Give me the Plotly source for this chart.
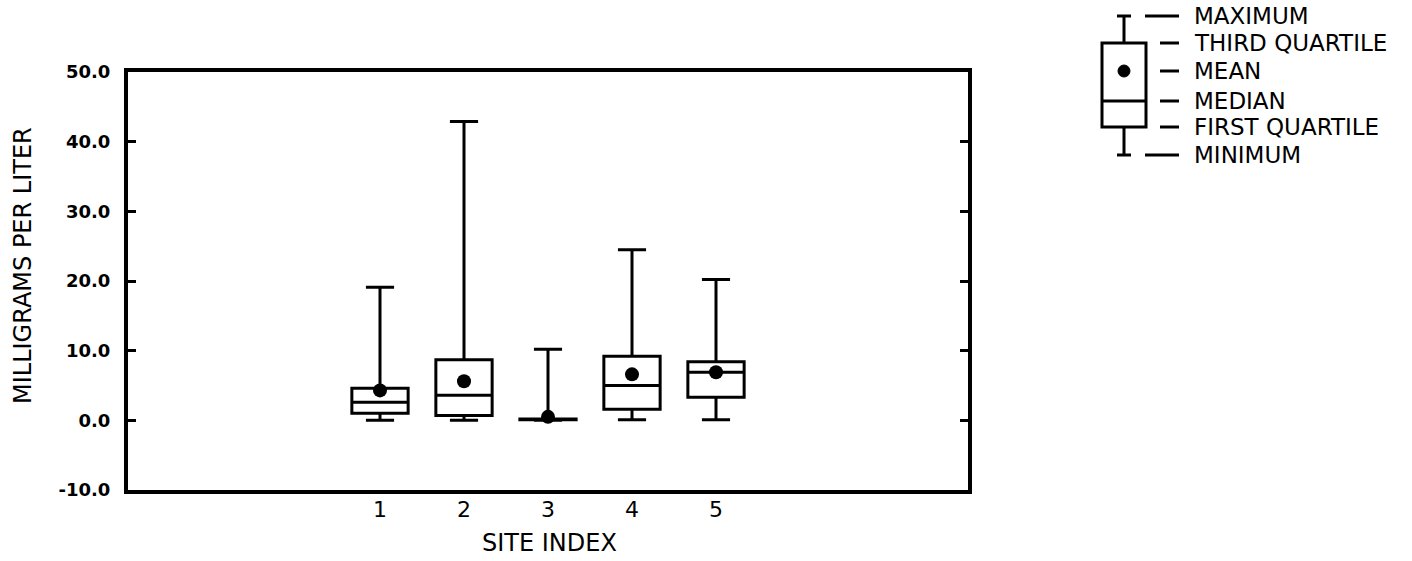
import plotly.graph_objects as go

# ---- data ----
sites = [1, 2, 3, 4, 5]
minimum = [0.0, 0.0, 0.0, 0.1, 0.1]
first_quartile = [1.0, 0.7, 0.1, 1.6, 3.3]
median = [2.6, 3.6, 0.1, 5.0, 6.9]
third_quartile = [4.6, 8.7, 0.2, 9.2, 8.4]
maximum = [19.1, 42.9, 10.2, 24.5, 20.2]
mean = [4.3, 5.6, 0.5, 6.6, 6.9]

y_ticks = [-10, 0, 10, 20, 30, 40, 50]
x_tick_labels = ["1", "2", "3", "4", "5"]
legend_labels = ["MAXIMUM", "THIRD QUARTILE", "MEAN", "MEDIAN", "FIRST QUARTILE", "MINIMUM"]

W, H = 1412, 561
FONT = "DejaVu Sans"

def px(x):
    return x / W

def py(y):
    return (H - y) / H

fig = go.Figure()

fig.add_trace(go.Box(
    x=sites, q1=first_quartile, median=median, q3=third_quartile,
    lowerfence=minimum, upperfence=maximum,
    width=0.67, whiskerwidth=0.5,
    line=dict(color="black", width=3), fillcolor="white",
    boxpoints=False, showlegend=False, hoverinfo="skip",
))
fig.add_trace(go.Scatter(
    x=sites, y=mean, mode="markers",
    marker=dict(color="black", size=14), showlegend=False, hoverinfo="skip",
))

fig.update_layout(
    width=W, height=H, autosize=False,
    margin=dict(l=0, r=0, t=0, b=0, autoexpand=False),
    paper_bgcolor="white", plot_bgcolor="white",
    font=dict(family=FONT, color="black"),
    xaxis=dict(
        domain=[px(128), px(968)], range=[-2, 8], automargin=False,
        tickmode="array", tickvals=sites, ticktext=x_tick_labels,
        ticks="", showgrid=False, zeroline=False,
        showline=True, linewidth=4, linecolor="black", mirror=True,
        tickfont=dict(size=22, family=FONT), ticklabelstandoff=-3,
    ),
    yaxis=dict(
        domain=[py(490), py(72)], range=[-10, 50], automargin=False,
        tickmode="array", tickvals=y_ticks, ticktext=[f"{v:.1f}" for v in y_ticks],
        ticks="inside", ticklen=8, tickwidth=3, tickcolor="black",
        showgrid=False, zeroline=False,
        showline=True, linewidth=4, linecolor="black", mirror="ticks",
        tickfont=dict(size=18, family=FONT, weight="bold"), ticklabelstandoff=10,
    ),
)

annotations = [
    dict(text="MILLIGRAMS PER LITER", x=px(23), y=py(266), xref="paper", yref="paper",
         textangle=-90, showarrow=False, font=dict(size=24, family=FONT),
         xanchor="center", yanchor="middle"),
    dict(text="SITE INDEX", x=px(549), y=py(543), xref="paper", yref="paper",
         showarrow=False, font=dict(size=24, family=FONT),
         xanchor="center", yanchor="middle"),
]

# ---- schematic key (top right) ----
shapes = []
lw = 3
cx = 1124
y_max, y_q3, y_mean, y_med, y_q1, y_min = 16, 43, 71, 101, 127, 155
shapes += [
    dict(type="rect", x0=px(1102), x1=px(1146), y0=py(y_q3), y1=py(y_q1),
         line=dict(color="black", width=lw), xref="paper", yref="paper"),
    dict(type="line", x0=px(1102), x1=px(1146), y0=py(y_med), y1=py(y_med),
         line=dict(color="black", width=lw), xref="paper", yref="paper"),
    dict(type="line", x0=px(cx), x1=px(cx), y0=py(y_max), y1=py(y_q3),
         line=dict(color="black", width=lw), xref="paper", yref="paper"),
    dict(type="line", x0=px(cx), x1=px(cx), y0=py(y_q1), y1=py(y_min),
         line=dict(color="black", width=lw), xref="paper", yref="paper"),
    dict(type="line", x0=px(1117), x1=px(1131), y0=py(y_max), y1=py(y_max),
         line=dict(color="black", width=lw), xref="paper", yref="paper"),
    dict(type="line", x0=px(1117), x1=px(1131), y0=py(y_min), y1=py(y_min),
         line=dict(color="black", width=lw), xref="paper", yref="paper"),
    dict(type="circle", x0=px(cx - 6), x1=px(cx + 6), y0=py(y_mean + 6), y1=py(y_mean - 6),
         fillcolor="black", line=dict(color="black", width=1), xref="paper", yref="paper"),
]
leader_y = [y_max, y_q3, y_mean, y_med, y_q1, y_min]
leader_x0 = [1145, 1160, 1160, 1160, 1160, 1145]
for lab, yy, x0 in zip(legend_labels, leader_y, leader_x0):
    shapes.append(dict(type="line", x0=px(x0), x1=px(1179), y0=py(yy), y1=py(yy),
                       line=dict(color="black", width=3), xref="paper", yref="paper"))
    annotations.append(dict(text=lab, x=px(1192), y=py(yy), xref="paper", yref="paper",
                            showarrow=False, xanchor="left", yanchor="middle",
                            font=dict(size=23, family=FONT)))

fig.update_layout(shapes=shapes, annotations=annotations)

fig.write_html("out.html")
